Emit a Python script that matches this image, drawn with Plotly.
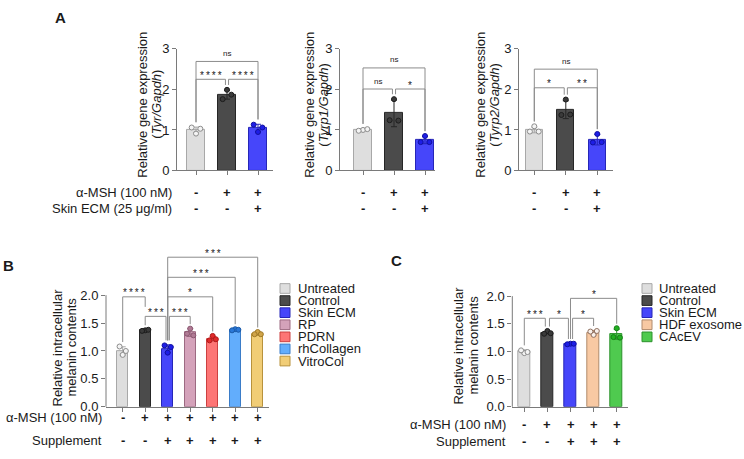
import plotly.graph_objects as go

W, H = 744, 459
FONT = "Liberation Sans, Arial, Helvetica, sans-serif"
AX_COL = "#7a7a7a"
BR_COL = "#8c8c8c"
TXT = "#1a1a1a"

# ---------------- data ----------------
groups_A = ["Untreated", "Control", "Skin ECM"]

tyr_mean = [1.00, 1.87, 1.05]
tyr_sd = [0.07, 0.11, 0.09]
tyr_pts = [[0.91, 1.06, 1.03], [1.99, 1.76, 1.87], [0.95, 1.13, 1.06]]

tyrp1_mean = [1.00, 1.41, 0.75]
tyrp1_sd = [0.03, 0.33, 0.09]
tyrp1_pts = [[1.00, 0.98, 1.02], [1.76, 1.24, 1.23], [0.85, 0.70, 0.70]]

tyrp2_mean = [1.00, 1.50, 0.76]
tyrp2_sd = [0.07, 0.22, 0.13]
tyrp2_pts = [[1.09, 0.96, 0.96], [1.75, 1.37, 1.38], [0.90, 0.69, 0.70]]

# brackets: (from, to, height, label, leg-bottom override i, leg-bottom override j)
tyr_sig = [(0, 2, 2.69, "ns", None, None), (0, 1, 2.25, "****", None, None), (1, 2, 2.25, "****", None, None)]
tyrp1_sig = [(0, 2, 2.53, "ns", None, None), (0, 1, 2.01, "ns", None, None), (1, 2, 2.01, "*", None, None)]
tyrp2_sig = [(0, 2, 2.50, "ns", None, None), (0, 1, 2.04, "*", None, None), (1, 2, 2.04, "**", None, None)]

msh_A = ["-", "+", "+"]
ecm_A = ["-", "-", "+"]

groups_B = ["Untreated", "Control", "Skin ECM", "RP", "PDRN", "rhCollagen", "VitroCol"]
mean_B = [1.00, 1.37, 1.04, 1.33, 1.22, 1.38, 1.31]
sd_B = [0.075, 0.01, 0.07, 0.07, 0.04, 0.02, 0.03]
pts_B = [[0.93, 1.08, 1.00], [1.37, 1.36, 1.38], [0.97, 1.10, 1.07], [1.40, 1.31, 1.28],
         [1.27, 1.19, 1.21], [1.39, 1.37, 1.38], [1.34, 1.30, 1.30]]
sig_B = [(0, 1, 1.97, "****", None, 1.79), (1, 2, 1.62, "***", None, None), (2, 3, 1.62, "***", None, None),
         (2, 4, 1.97, "*", None, None), (2, 5, 2.32, "***", None, None), (2, 6, 2.68, "***", None, None)]
msh_B = ["-", "+", "+", "+", "+", "+", "+"]
sup_B = ["-", "-", "+", "+", "+", "+", "+"]

groups_C = ["Untreated", "Control", "Skin ECM", "HDF exosome", "CAcEV"]
mean_C = [1.00, 1.34, 1.14, 1.34, 1.31]
sd_C = [0.03, 0.02, 0.005, 0.04, 0.09]
pts_C = [[0.97, 1.02, 0.99], [1.37, 1.32, 1.33], [1.14, 1.13, 1.14], [1.30, 1.36, 1.37], [1.42, 1.26, 1.25]]
sig_C = [(0, 1, 1.60, "***", None, None), (1, 2, 1.60, "*", None, None), (2, 3, 1.60, "*", None, None),
         (2, 4, 1.96, "*", None, None)]
msh_C = ["-", "+", "+", "+", "+"]
sup_C = ["-", "-", "+", "+", "+"]

ticks_A = [0, 1, 2, 3]
ticks_BC = [0, 0.5, 1.0, 1.5, 2.0]
ticktext_BC = ["0.0", "0.5", "1.0", "1.5", "2.0"]

# fill, edge, point fill, point line
STYLE = {
    "Untreated": ("#dedede", "#a8a8a8", "#f4f4f4", "#8c8c8c"),
    "Control": ("#4b4b4b", "#262626", "#3a3a3a", "#1c1c1c"),
    "Skin ECM": ("#4646fa", "#2626b8", "#1e1ee6", "#1010a0"),
    "RP": ("#d4a2ba", "#9c6a82", "#b07a94", "#8a5670"),
    "PDRN": ("#fd7575", "#cc4040", "#e02a2a", "#b01a1a"),
    "rhCollagen": ("#62adfc", "#3a7cc8", "#2a78d8", "#1a5aa8"),
    "VitroCol": ("#f1cd76", "#b8923c", "#d0a448", "#a07a28"),
    "HDF exosome": ("#f8c9a3", "#b08a6c", "#f8f0ea", "#907060"),
    "CAcEV": ("#4fca4f", "#2c922c", "#22b022", "#168016"),
}
JIT = [0.0, -0.14, 0.14]

# ---------------- layout geometry (pixels) ----------------
def px(x):
    return x / W

def py(y):
    return 1 - y / H

# suffix, x-axis px [left,right], first bar px, bar spacing, y0 px, px per unit, y top value, bar width, inset, gap
PANELS = {
    "A1": dict(s="", xl=177, xr=273, b0=196, sp=31, y0=169, ppu=41.9, top=3.0, bw=0.55, ins=0.05, gap=0.12),
    "A2": dict(s="2", xl=340, xr=435, b0=363, sp=31, y0=169, ppu=41.9, top=3.0, bw=0.55, ins=0.05, gap=0.12),
    "A3": dict(s="3", xl=519, xr=613, b0=534.3, sp=31.5, y0=169, ppu=41.9, top=3.0, bw=0.55, ins=0.05, gap=0.12),
    "B": dict(s="4", xl=106, xr=269, b0=122.7, sp=22.5, y0=413.3, ppu=57.7, top=2.95, bw=0.5, ins=0.075, gap=0.08),
    "C": dict(s="5", xl=512.3, xr=628.3, b0=524.3, sp=23.1, y0=413.3, ppu=57.2, top=2.2, bw=0.52, ins=0.09, gap=0.08),
}

fig = go.Figure()
annotations = []
shapes = []


def axis_names(s):
    return "x" + s, "y" + s, "xaxis" + s, "yaxis" + s


def add_panel(key, groups, means, sds, pts, sig, full_yline):
    P = PANELS[key]
    xr_, yr_, xa, ya = axis_names(P["s"])
    n = len(groups)
    xrange = [(P["xl"] - P["b0"]) / P["sp"], (P["xr"] - P["b0"]) / P["sp"]]
    ydom = [py(P["y0"]), py(P["y0"] - P["ppu"] * P["top"])]
    for i, g in enumerate(groups):
        fill, edge, pfill, pline = STYLE[g]
        fig.add_trace(go.Bar(
            x=[i], y=[means[i]], width=P["bw"], xaxis=xr_, yaxis=yr_,
            marker=dict(color=fill, line=dict(color=edge, width=1)),
            error_y=dict(type="data", array=[sds[i]], visible=True, color=edge, thickness=1, width=3),
            showlegend=False, hoverinfo="skip"))
    for i, g in enumerate(groups):
        fill, edge, pfill, pline = STYLE[g]
        fig.add_trace(go.Scatter(
            x=[i + JIT[k] for k in range(len(pts[i]))], y=pts[i], mode="markers",
            xaxis=xr_, yaxis=yr_,
            marker=dict(size=5, color=pfill, line=dict(color=pline, width=1)),
            showlegend=False, hoverinfo="skip"))
    # brackets
    tops = [max(means[i] + sds[i], max(pts[i])) for i in range(n)]
    for (i, j, yv, lab, lbi, lbj) in sig:
        xi, xj = float(i), float(j)
        for (i2, j2, y2, *_rest) in sig:
            if abs(y2 - yv) < 1e-9 and (i2, j2) != (i, j):
                if i2 == j:
                    xj -= P["ins"]
                if j2 == i:
                    xi += P["ins"]
        bi = lbi if lbi is not None else tops[i] + P["gap"]
        bj = lbj if lbj is not None else tops[j] + P["gap"]
        fig.add_trace(go.Scatter(
            x=[xi, xi, xj, xj], y=[bi, yv, yv, bj], mode="lines", xaxis=xr_, yaxis=yr_,
            line=dict(color=BR_COL, width=1), showlegend=False, hoverinfo="skip"))
        if lab == "ns":
            txt, fs, ysh = "ns", 8, 8
        else:
            txt, fs, ysh = "\u2009".join(lab), 10, 4
        annotations.append(dict(x=(xi + xj) / 2, y=yv, xref=xr_, yref=yr_, text=txt, showarrow=False,
                                font=dict(size=fs, color=TXT, family=FONT), yanchor="middle", yshift=ysh))
    yax = dict(domain=ydom, range=[0, P["top"]], anchor=xr_, showgrid=False, zeroline=False,
               ticks="outside", ticklen=4, tickcolor=AX_COL, tickwidth=1,
               tickfont=dict(size=13, color=TXT, family=FONT), linecolor=AX_COL, linewidth=1)
    if full_yline:
        yax.update(showline=True, tickvals=ticks_A)
    else:
        yax.update(showline=False, tickvals=ticks_BC, ticktext=ticktext_BC)
        y2p = ydom[0] + 2.0 / P["top"] * (ydom[1] - ydom[0])
        shapes.append(dict(type="line", xref=xr_ + " domain", yref="paper", x0=0, x1=0,
                           y0=ydom[0], y1=y2p, line=dict(color=AX_COL, width=1)))
    fig.update_layout(**{
        xa: dict(domain=[px(P["xl"]), px(P["xr"])], range=xrange, anchor=yr_, showgrid=False,
                 zeroline=False, showline=True, linecolor=AX_COL, linewidth=1,
                 tickvals=list(range(n)), ticks="outside", ticklen=4, tickcolor=AX_COL,
                 showticklabels=False, fixedrange=True),
        ya: yax,
    })
    return xr_


def sign_row(xref, signs, ypx):
    for i, s in enumerate(signs):
        annotations.append(dict(x=i, y=py(ypx), xref=xref, yref="paper", text="<b>%s</b>" % s,
                                showarrow=False, font=dict(size=13, color=TXT, family=FONT),
                                xanchor="center", yanchor="middle"))


def text(x, y, t, size=13, xanchor="center", angle=0, bold=False):
    annotations.append(dict(x=px(x), y=py(y), xref="paper", yref="paper",
                            text=("<b>%s</b>" % t) if bold else t, showarrow=False, textangle=angle,
                            font=dict(size=size, color=TXT, family=FONT), xanchor=xanchor, yanchor="middle"))


# Panel A
gx = add_panel("A1", groups_A, tyr_mean, tyr_sd, tyr_pts, tyr_sig, True)
sign_row(gx, msh_A, 192); sign_row(gx, ecm_A, 208)
gx = add_panel("A2", groups_A, tyrp1_mean, tyrp1_sd, tyrp1_pts, tyrp1_sig, True)
sign_row(gx, msh_A, 192); sign_row(gx, ecm_A, 208)
gx = add_panel("A3", groups_A, tyrp2_mean, tyrp2_sd, tyrp2_pts, tyrp2_sig, True)
sign_row(gx, msh_A, 192); sign_row(gx, ecm_A, 208)

text(143, 101, "Relative gene expression", angle=-90)
text(157, 101, "(<i>Tyr/Gapdh</i>)", angle=-90)
text(310, 101, "Relative gene expression", angle=-90)
text(324, 101, "(<i>Tyrp1/Gapdh</i>)", angle=-90)
text(481, 101, "Relative gene expression", angle=-90)
text(495, 101, "(<i>Tyrp2/Gapdh</i>)", angle=-90)
text(174, 192, "α-MSH (100 nM)", xanchor="right")
text(174, 208, "Skin ECM (25 μg/ml)", xanchor="right")

# Panel B
gx = add_panel("B", groups_B, mean_B, sd_B, pts_B, sig_B, False)
sign_row(gx, msh_B, 424); sign_row(gx, sup_B, 448)
text(57, 352, "Relative intracellular", angle=-90)
text(71, 352, "melanin contents", angle=-90)
text(104, 424, "α-MSH (100 nM)", xanchor="right")
text(104, 448, "Supplement", xanchor="right")

# Panel C
gx = add_panel("C", groups_C, mean_C, sd_C, pts_C, sig_C, False)
sign_row(gx, msh_C, 432); sign_row(gx, sup_C, 449)
text(459, 350, "Relative intracellular", angle=-90)
text(474, 350, "melanin contents", angle=-90)
text(508, 432, "α-MSH (100 nM)", xanchor="right")
text(508, 449, "Supplement", xanchor="right")


# legends
def legend(groups, sqx, tx, y0):
    for k, g in enumerate(groups):
        fill, edge, _, _ = STYLE[g]
        yc = y0 + 12.5 * k
        shapes.append(dict(type="rect", xref="paper", yref="paper", x0=px(sqx), x1=px(sqx + 10),
                           y0=py(yc + 5), y1=py(yc - 5), fillcolor=fill, line=dict(color=edge, width=1)))
        text(tx, yc, g, xanchor="left")


legend(groups_B, 280, 296, 291)
legend(groups_C, 642, 657, 291)

# panel letters
text(60, 11, "A", size=15, bold=True)
text(8, 267, "B", size=15, bold=True)
text(396, 262, "C", size=15, bold=True)

fig.update_layout(width=W, height=H, margin=dict(l=0, r=0, t=0, b=0), paper_bgcolor="white",
                  plot_bgcolor="white", showlegend=False, annotations=annotations, shapes=shapes,
                  font=dict(family=FONT, color=TXT), bargap=0)
fig.write_html("out.html")
